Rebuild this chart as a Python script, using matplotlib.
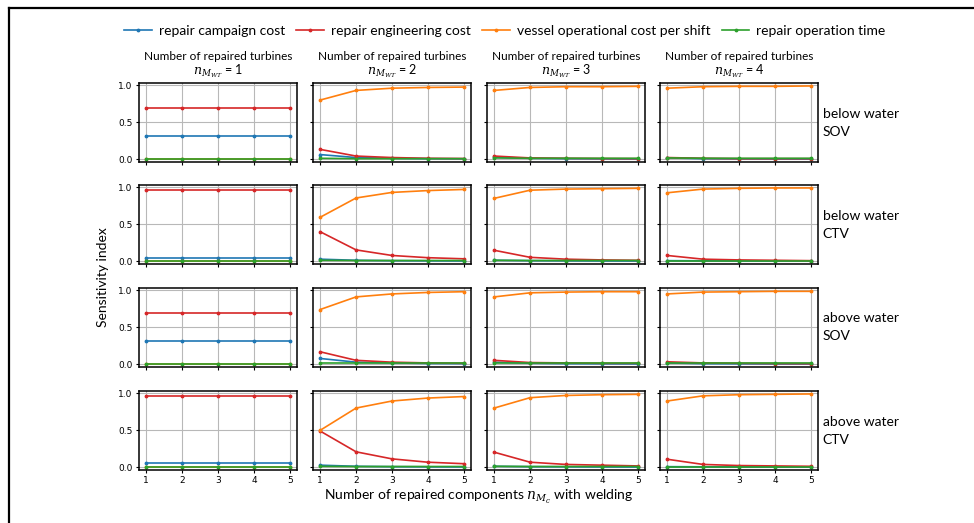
import matplotlib
matplotlib.use("Agg")
import matplotlib.pyplot as plt
from matplotlib.lines import Line2D

# components repaired per turbine
components = [1, 2, 3, 4, 5]
turbines = [1, 2, 3, 4]
scenarios = ["below water\nSOV", "below water\nCTV", "above water\nSOV", "above water\nCTV"]

# sensitivity indices: [scenario][number of turbines][number of components]
campaign_cost = [
    [[0.32, 0.32, 0.32, 0.32, 0.32],
     [0.065, 0.025, 0.015, 0.01, 0.008],
     [0.03, 0.015, 0.01, 0.008, 0.006],
     [0.02, 0.01, 0.008, 0.006, 0.005]],
    [[0.05, 0.05, 0.05, 0.05, 0.05],
     [0.03, 0.015, 0.01, 0.008, 0.006],
     [0.015, 0.01, 0.008, 0.006, 0.005],
     [0.01, 0.008, 0.006, 0.005, 0.005]],
    [[0.31, 0.31, 0.31, 0.31, 0.31],
     [0.08, 0.03, 0.02, 0.012, 0.01],
     [0.03, 0.015, 0.01, 0.008, 0.006],
     [0.02, 0.01, 0.008, 0.006, 0.005]],
    [[0.055, 0.055, 0.055, 0.055, 0.055],
     [0.03, 0.015, 0.01, 0.008, 0.006],
     [0.015, 0.01, 0.008, 0.006, 0.005],
     [0.01, 0.008, 0.006, 0.005, 0.005]],
]
engineering_cost = [
    [[0.69, 0.69, 0.69, 0.69, 0.69],
     [0.135, 0.045, 0.025, 0.015, 0.012],
     [0.045, 0.02, 0.015, 0.012, 0.01],
     [0.025, 0.015, 0.01, 0.01, 0.01]],
    [[0.96, 0.96, 0.96, 0.96, 0.96],
     [0.40, 0.155, 0.08, 0.05, 0.035],
     [0.15, 0.055, 0.03, 0.02, 0.015],
     [0.08, 0.03, 0.02, 0.015, 0.01]],
    [[0.69, 0.69, 0.69, 0.69, 0.69],
     [0.17, 0.055, 0.03, 0.02, 0.015],
     [0.055, 0.025, 0.02, 0.015, 0.015],
     [0.035, 0.02, 0.015, 0.012, 0.01]],
    [[0.96, 0.96, 0.96, 0.96, 0.96],
     [0.49, 0.21, 0.115, 0.07, 0.05],
     [0.205, 0.07, 0.04, 0.03, 0.02],
     [0.11, 0.04, 0.025, 0.02, 0.015]],
]
vessel_cost = [
    [[0.0, 0.0, 0.0, 0.0, 0.0],
     [0.80, 0.93, 0.96, 0.97, 0.975],
     [0.93, 0.97, 0.98, 0.98, 0.985],
     [0.96, 0.98, 0.985, 0.985, 0.99]],
    [[0.0, 0.0, 0.0, 0.0, 0.0],
     [0.595, 0.855, 0.93, 0.955, 0.97],
     [0.85, 0.96, 0.975, 0.98, 0.985],
     [0.925, 0.975, 0.985, 0.99, 0.99]],
    [[0.0, 0.0, 0.0, 0.0, 0.0],
     [0.74, 0.91, 0.95, 0.97, 0.98],
     [0.91, 0.965, 0.975, 0.98, 0.98],
     [0.95, 0.975, 0.98, 0.985, 0.985]],
    [[0.0, 0.0, 0.0, 0.0, 0.0],
     [0.50, 0.80, 0.895, 0.935, 0.955],
     [0.80, 0.94, 0.97, 0.98, 0.985],
     [0.895, 0.965, 0.98, 0.985, 0.99]],
]
operation_time = [
    [[0.01, 0.01, 0.01, 0.01, 0.01],
     [0.015, 0.01, 0.01, 0.01, 0.01],
     [0.02, 0.015, 0.015, 0.015, 0.015],
     [0.02, 0.015, 0.015, 0.015, 0.015]],
    [[0.01, 0.01, 0.01, 0.01, 0.01],
     [0.015, 0.012, 0.012, 0.012, 0.012],
     [0.015, 0.012, 0.012, 0.012, 0.012],
     [0.012, 0.012, 0.012, 0.012, 0.012]],
    [[0.01, 0.01, 0.01, 0.01, 0.01],
     [0.015, 0.015, 0.015, 0.015, 0.015],
     [0.025, 0.025, 0.025, 0.025, 0.025],
     [0.02, 0.02, 0.02, 0.02, 0.02]],
    [[0.01, 0.01, 0.01, 0.01, 0.01],
     [0.015, 0.012, 0.012, 0.012, 0.012],
     [0.015, 0.012, 0.012, 0.012, 0.012],
     [0.012, 0.012, 0.012, 0.012, 0.012]],
]

series = [
    ("repair campaign cost", campaign_cost, "tab:blue"),
    ("repair engineering cost", engineering_cost, "tab:red"),
    ("vessel operational cost per shift", vessel_cost, "tab:orange"),
    ("repair operation time", operation_time, "tab:green"),
]

W, H = 974, 523
col_left = [139, 313, 487, 660]
row_top = [83, 185, 288, 391]
ax_w, ax_h = 158, 79

plt.rcParams["font.family"] = ["Lato", "DejaVu Sans"]
plt.rcParams["mathtext.fontset"] = "dejavuserif"


def px_box(left, top, width, height):
    return [left / W, 1 - (top + height) / H, width / W, height / H]


def draw_panel(ax, r, c):
    for name, data, color in series:
        ax.plot(components, data[r][c], color=color, marker=".", markersize=3.5,
                linewidth=1.2, label=name)
    ax.set_ylim(-0.035, 1.03)
    ax.set_xlim(0.8, 5.2)
    ax.set_xticks(components)
    ax.set_yticks([0.0, 0.5, 1.0])
    ax.grid(True, color="#b8b8b8", linewidth=0.8)
    ax.tick_params(labelsize=6.5, length=2.5, width=0.8, pad=2)
    for tick in ax.get_xticklabels() + ax.get_yticklabels():
        tick.set_family("DejaVu Sans")
    for spine in ax.spines.values():
        spine.set_linewidth(1.1)
    if c > 0:
        ax.tick_params(labelleft=False)
    if r < 3:
        ax.tick_params(labelbottom=False)


def main():
    fig = plt.figure(figsize=(W / 100, H / 100), dpi=100)

    for r in range(4):
        for c in range(4):
            ax = fig.add_axes(px_box(col_left[c], row_top[r], ax_w, ax_h))
            draw_panel(ax, r, c)
            if r == 0:
                centre = (col_left[c] + ax_w / 2) / W
                fig.text(centre, 1 - 56 / H, "Number of repaired turbines",
                         ha="center", va="center", fontsize=8.5)
                fig.text(centre, 1 - 71 / H, "$n_{M_{WT}}$ = %d" % turbines[c],
                         ha="center", va="center", fontsize=9)
            if c == 3:
                ax.text(1.03, 0.5, scenarios[r], transform=ax.transAxes,
                        fontsize=10, va="center", ha="left", linespacing=1.6)
            if r == 0 and c == 0:
                handles, labels = ax.get_legend_handles_labels()

    fig.legend(handles, labels, loc="center", bbox_to_anchor=(505 / W, 1 - 31 / H),
               ncol=4, frameon=False, fontsize=10, handlelength=2.0,
               columnspacing=0.8, handletextpad=0.5)

    fig.text(103 / W, 1 - 277 / H, "Sensitivity index", rotation=90,
             ha="center", va="center", fontsize=10)
    fig.text(479 / W, 1 - 497 / H,
             "Number of repaired components $n_{M_c}$ with welding",
             ha="center", va="center", fontsize=10)

    # frame lines along the left and top edge
    fig.add_artist(Line2D([8.5 / W, 8.5 / W], [0, 1 - 7.5 / H], color="black",
                          linewidth=1.6, transform=fig.transFigure))
    fig.add_artist(Line2D([8.5 / W, 1], [1 - 7.5 / H, 1 - 7.5 / H], color="black",
                          linewidth=1.6, transform=fig.transFigure))

    fig.savefig("out.png", dpi=100)


if __name__ == "__main__":
    main()
